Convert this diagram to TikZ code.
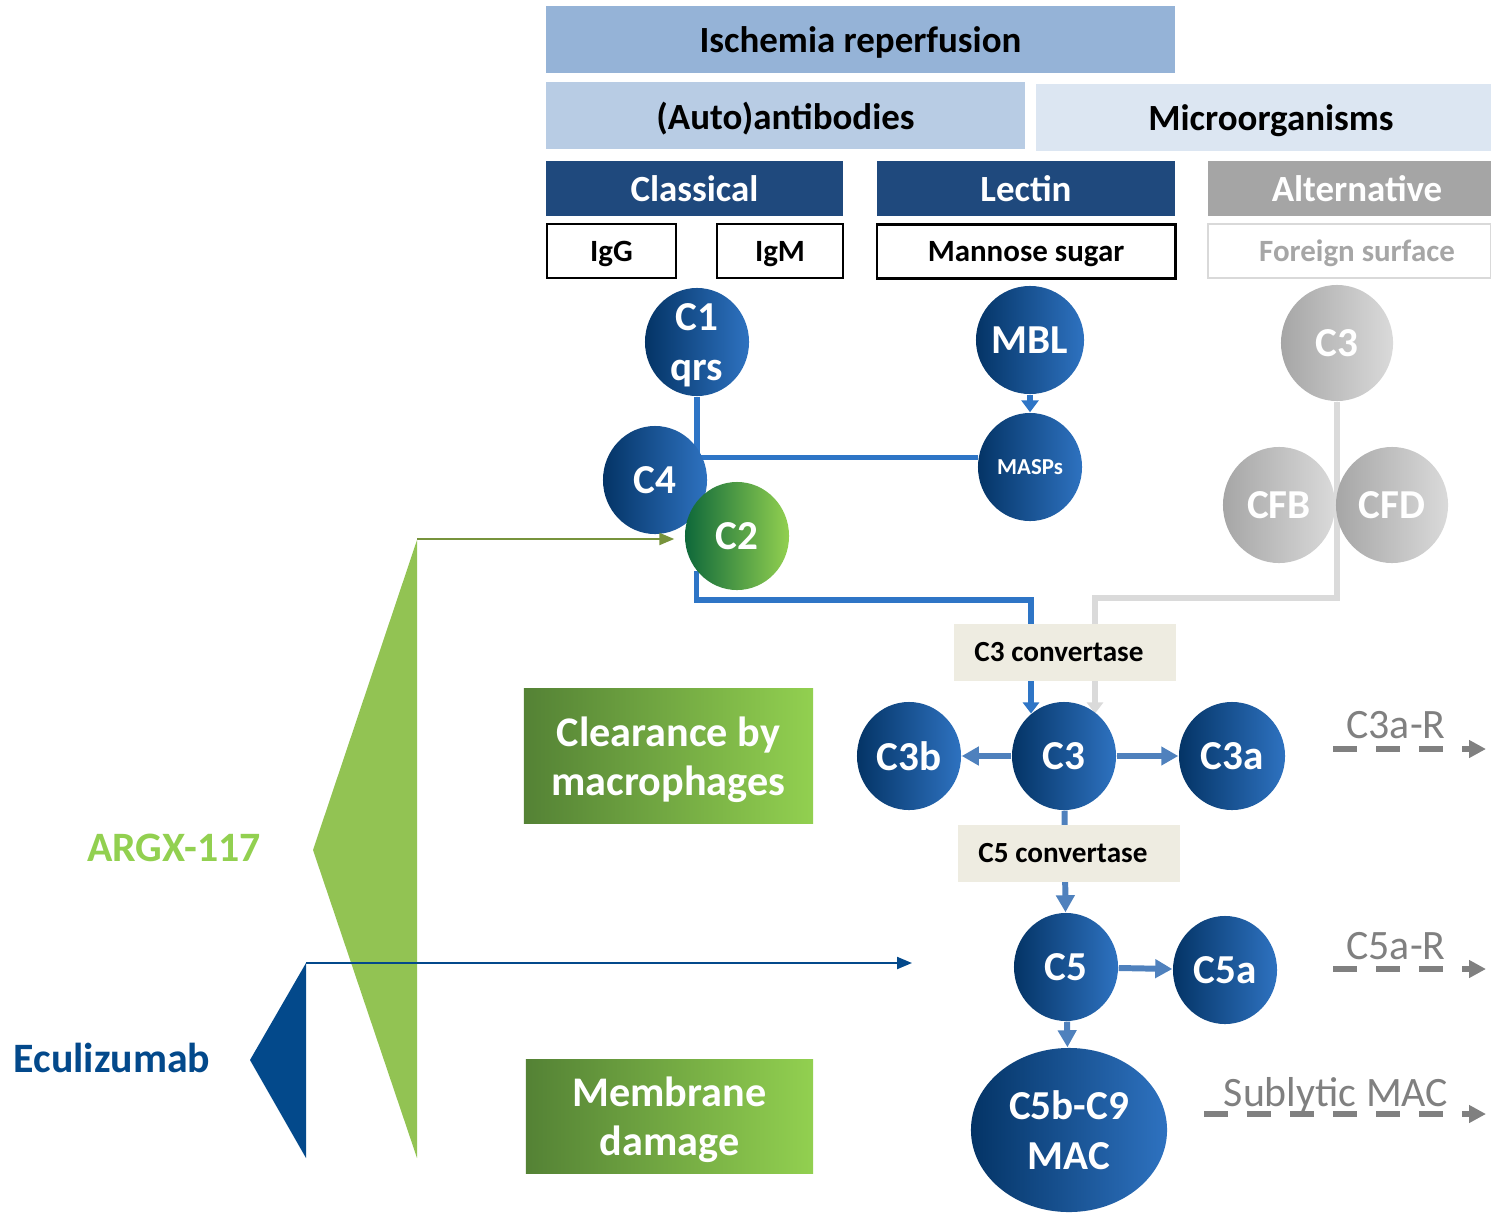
\documentclass[tikz,border=0pt]{standalone}
\usepackage{fontspec}
\setmainfont{Carlito}
\usetikzlibrary{arrows.meta,shapes.geometric,backgrounds}
\definecolor{ischblue}{RGB}{149,179,215}
\definecolor{autoblue}{RGB}{184,204,228}
\definecolor{microblue}{RGB}{220,230,242}
\definecolor{pathnavy}{RGB}{31,73,125}
\definecolor{pathgray}{RGB}{165,165,165}
\definecolor{surfgray}{RGB}{217,217,217}
\definecolor{surftext}{RGB}{166,166,166}
\definecolor{protdark}{RGB}{4,52,102}
\definecolor{protlight}{RGB}{46,114,192}
\definecolor{altdark}{RGB}{166,166,166}
\definecolor{altlight}{RGB}{218,218,218}
\definecolor{cdark}{RGB}{14,104,58}
\definecolor{limegreen}{RGB}{146,208,80}
\definecolor{olivedark}{RGB}{84,130,53}
\definecolor{linkblue}{RGB}{46,117,198}
\definecolor{splitblue}{RGB}{79,129,189}
\definecolor{convbeige}{RGB}{238,236,225}
\definecolor{argxgreen}{RGB}{146,195,83}
\definecolor{argxolive}{RGB}{119,147,60}
\definecolor{eculiblue}{RGB}{3,73,139}
\definecolor{signalgray}{RGB}{128,128,128}

\tikzset{
  hdrbox/.style={minimum height=0.67cm, inner sep=0pt, text depth=0pt,
    font=\fontsize{10.5}{12}\selectfont\bfseries},
  trigbox/.style={draw=black, fill=white, line width=0.8pt, minimum height=0.54cm,
    inner sep=0pt, text depth=0pt, font=\fontsize{8.8}{10}\selectfont\bfseries},
  prot/.style={ellipse, minimum width=1.04cm, minimum height=1.08cm, inner sep=0pt,
    text depth=0pt, left color=protdark, right color=protlight, text=white, align=center,
    font=\fontsize{11.7}{14.2}\selectfont\bfseries},
  altprot/.style={prot, minimum width=1.12cm, minimum height=1.16cm,
    left color=altdark, right color=altlight},
  convbox/.style={fill=convbeige, minimum width=2.22cm, minimum height=0.57cm,
    inner sep=0pt, font=\fontsize{8.3}{10}\selectfont\bfseries},
  effbox/.style={left color=olivedark, right color=limegreen, text=white, text depth=0pt,
    align=center, inner sep=0pt, font=\fontsize{12}{14}\selectfont\bfseries},
  link/.style={linkblue, line width=1.45pt},
  split/.style={splitblue, line width=1.7pt, -{Triangle[length=0.17cm,width=0.18cm]}},
  signal/.style={signalgray, line width=1.6pt, dash pattern=on 0.24cm off 0.19cm,
    -{Triangle[length=0.17cm,width=0.17cm]}},
  siglabel/.style={text=signalgray, inner sep=0pt, font=\fontsize{11.9}{14}\selectfont},
  druglabel/.style={font=\fontsize{11.9}{14}\selectfont\bfseries},
  drugline/.style={line width=0.6pt, -{Triangle[length=0.15cm,width=0.12cm]}},
}

\begin{document}
\begin{tikzpicture}[x=0.01cm, y=-0.01cm]
  \useasboundingbox (0,0) rectangle (1491,1212);

  % ── TRIGGERS ───────────────────────────────────────────────────────────────
  \node[hdrbox, fill=ischblue, minimum width=6.29cm] (ischemia) at (860.5,39.5) {Ischemia reperfusion};
  \node[hdrbox, fill=autoblue, minimum width=4.79cm] (autoab) at (785.5,115.5) {(Auto)antibodies};
  \node[hdrbox, fill=microblue, minimum width=4.55cm] (micro) at (1263.5,117.5) {\hspace*{0.15cm}Microorganisms};

  % ── PATHWAYS ───────────────────────────────────────────────────────────────
  \node[hdrbox, fill=pathnavy, text=white, minimum width=2.97cm, minimum height=0.55cm]
    (classical) at (694.5,188.5) {Classical};
  \node[hdrbox, fill=pathnavy, text=white, minimum width=2.98cm, minimum height=0.55cm]
    (lectin) at (1026,188.5) {Lectin};
  \node[hdrbox, fill=pathgray, text=white, minimum width=2.83cm, minimum height=0.55cm]
    (alternative) at (1349.5,188.5) {\hspace*{0.15cm}Alternative};

  \node[trigbox, minimum width=1.29cm] (igg) at (611.5,251) {IgG};
  \node[trigbox, minimum width=1.26cm] (igm) at (780,251) {IgM};
  \node[trigbox, minimum width=2.98cm] (mannose) at (1026,251.5) {Mannose sugar};
  \node[trigbox, draw=surfgray, text=surftext, minimum width=2.83cm] (foreign) at (1349.5,251) {\hspace*{0.15cm}Foreign surface};

  % ── EARLY COMPONENTS ───────────────────────────────────────────────────────
  \node[prot, inner sep=-0.2cm] (c1) at (697,342) {C1\\qrs};
  \node[prot] (c4) at (655,480) {C4};
  \node[prot, left color=cdark, right color=limegreen] (c2) at (737,536) {C2};
  \node[prot] (mbl) at (1030,340) {MBL};
  \node[prot, font=\fontsize{6.5}{8}\selectfont\bfseries] (masps) at (1030,467) {MASPs};
  \node[altprot] (altc3) at (1337,343) {C3};
  \node[altprot] (cfb) at (1279,505) {CFB};
  \node[altprot] (cfd) at (1392,505) {CFD};

  % ── CONVERTASES AND SPLIT PRODUCTS ─────────────────────────────────────────
  \node[convbox] (conv3) at (1065,652.5) {C3 convertase\hspace*{0.12cm}};
  \node[prot] (c3b) at (909,756) {C3b};
  \node[prot] (c3) at (1064,756) {C3};
  \node[prot, minimum width=1.06cm] (c3a) at (1232,756) {C3a};
  \node[convbox] (conv5) at (1069,853.5) {C5 convertase\hspace*{0.12cm}};
  \node[prot] (c5) at (1066,967) {C5};
  \node[prot] (c5a) at (1225,970) {C5a};
  \node[prot, minimum width=1.96cm, minimum height=1.64cm, inner sep=-0.2cm] (mac) at (1069,1130) {C5b-C9\\MAC};

  % connectors sit behind the circles and the convertase boxes
  \begin{pgfonlayer}{background}
    \draw[link] (c1.south) |- (masps.170);
    \draw[link, -{Triangle[length=0.12cm,width=0.17cm]}] (mbl) -- (masps);
    \coordinate (cturn) at (1031,600);
    \draw[link, -{Triangle[length=0.11cm,width=0.16cm]}] (c2.221) |- (cturn) -- (cturn |- c3.128);
    \coordinate (gturn) at (1095,598);
    \draw[link, altlight, line width=1.7pt, -{Triangle[length=0.11cm,width=0.16cm]}]
      (altc3.south) |- (gturn) -- (gturn |- c3.52);
    \draw[split] (c3) -- (c3b);
    \draw[split] (c3) -- (c3a);
    \draw[split] (c3) -- (c5);
    \draw[split] (c5) -- (c5a);
    \draw[split] (c5) -- (mac);
  \end{pgfonlayer}

  % ── EFFECTS ────────────────────────────────────────────────────────────────
  \node[effbox, minimum width=2.89cm, minimum height=1.34cm] (clearance) at (668.5,756) {Clearance by\\macrophages};
  \node[effbox, minimum width=2.87cm, minimum height=1.13cm] (membrane) at (669.5,1116.5) {Membrane\\damage};

  \coordinate (r3s) at (1333,749);  \coordinate (r3e) at (1486,749);
  \coordinate (r5s) at (1333,969);  \coordinate (r5e) at (1486,969);
  \coordinate (macs) at (1204,1114); \coordinate (mace) at (1486,1114);
  \draw[signal] (r3s) -- (r3e);
  \draw[signal] (r5s) -- (r5e);
  \draw[signal] (macs) -- (mace);
  \node[siglabel] (r3lbl) at (1396,725) {C3a-R};
  \node[siglabel] (r5lbl) at (1396,946) {C5a-R};
  \node[siglabel] (maclbl) at (1336,1095) {Sublytic MAC};

  % ── INHIBITORS ─────────────────────────────────────────────────────────────
  % ARGX-117: wide green wedge, arrow to C2
  \fill[argxgreen] (417,540) -- (313,850) -- (417,1158) -- cycle;
  \node[druglabel, text=limegreen] (argx) at (174,848) {ARGX-117};
  \coordinate (argxtop) at (417,539);
  \draw[drugline, argxolive, shorten >=0.1cm] (argxtop) -- (argxtop -| c2.west);

  % Eculizumab: narrow blue wedge, arrow towards C5
  \fill[eculiblue] (306,963) -- (250,1060) -- (306,1158) -- cycle;
  \node[druglabel, text=eculiblue] (eculi) at (112,1058) {Eculizumab};
  \coordinate (eculitop) at (306,963);
  \coordinate (eculiend) at (912,963);
  \draw[drugline, eculiblue] (eculitop) -- (eculiend);

\end{tikzpicture}
\end{document}
